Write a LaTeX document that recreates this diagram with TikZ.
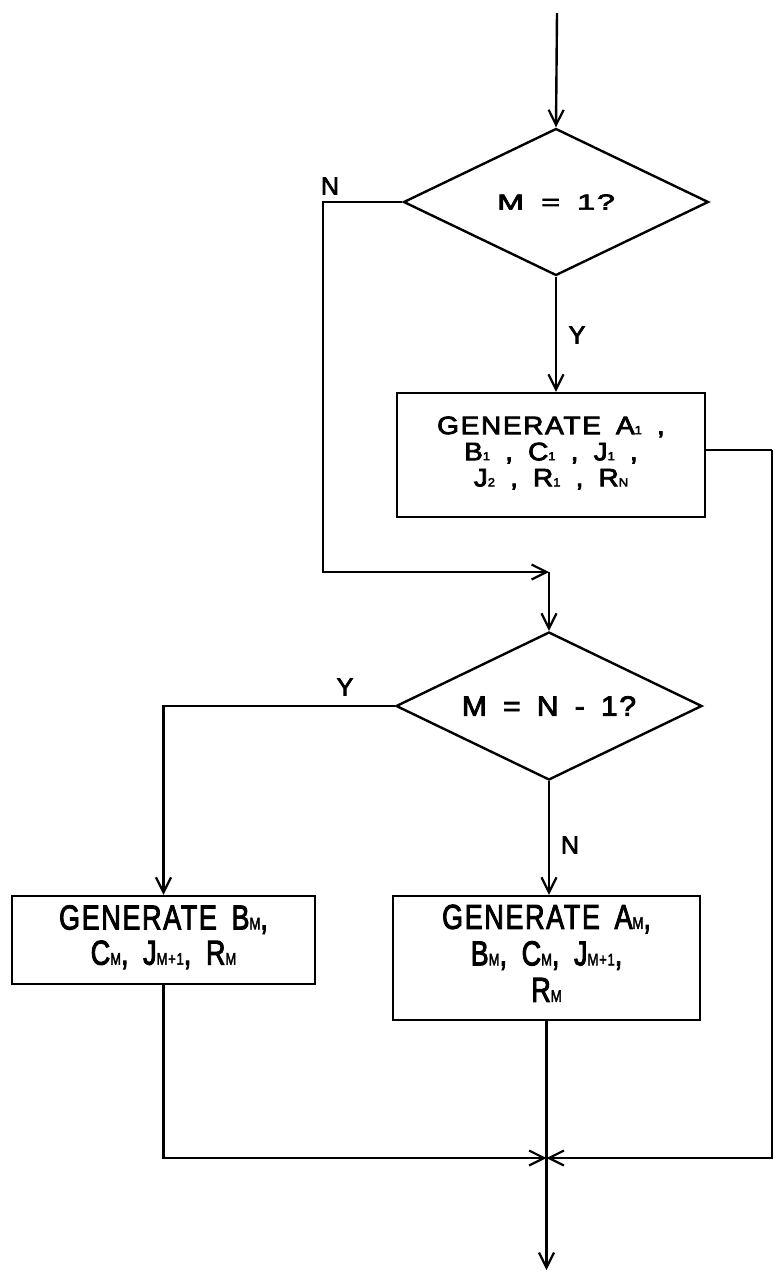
\documentclass[tikz,border=0pt]{standalone}
\usepackage{fontspec}
\setmainfont{Liberation Sans}[LetterSpace=6,WordSpace=1.6,FakeBold=3]
\usepackage{graphicx}
\usetikzlibrary{shapes.geometric,arrows.meta}
\newcommand\lsub[1]{{\fontsize{13}{13}\selectfont #1}}
\begin{document}
\begin{tikzpicture}[x=1pt,y=-1pt,
  line width=2.4pt,
  arr/.style={-{Straight Barb[length=15pt,width=15pt,line width=2.2pt]}},
  box/.style={draw, rectangle, inner sep=0pt, line width=2.4pt},
  dia/.style={draw, diamond, aspect=2.08, inner sep=0pt, line width=2.4pt},
  lab/.style={font=\fontsize{25}{25}\selectfont, inner sep=0pt}
]
\useasboundingbox (0,0) rectangle (775,1275);
% decisions
\node[dia, minimum width=305pt, minimum height=147pt, font=\fontsize{32}{32}\selectfont] (d1) at (556,202)
  {\scalebox{1}[0.68]{M = 1?}};
\node[dia, minimum width=306pt, minimum height=148pt, font=\fontsize{30}{30}\selectfont] (d2) at (549,706)
  {\scalebox{1}[0.93]{M = N - 1?}};
% process boxes
\node[box, minimum width=308pt, minimum height=124pt, font=\fontsize{28}{29}\selectfont] (b1) at (551,455)
  {\scalebox{1}[0.9]{\begin{tabular}{@{}c@{}}GENERATE A\lsub{1} ,\\ B\lsub{1} , C\lsub{1} , J\lsub{1} ,\\ J\lsub{2} , R\lsub{1} , R\lsub{N}\end{tabular}}};
\node[box, minimum width=303pt, minimum height=88pt, font=\fontsize{27}{27.5}\selectfont] (b2) at (163.5,940)
  {\scalebox{1}[1.28]{\begin{tabular}{@{}c@{}}GENERATE B\lsub{M},\\ C\lsub{M}, J\lsub{M+1}, R\lsub{M}\end{tabular}}};
\node[box, minimum width=307pt, minimum height=124pt, font=\fontsize{27}{28.5}\selectfont] (b3) at (546.5,958)
  {\scalebox{1}[1.28]{\begin{tabular}{@{}c@{}}GENERATE A\lsub{M},\\ B\lsub{M}, C\lsub{M}, J\lsub{M+1},\\ R\lsub{M}\end{tabular}}};
% auxiliary points
\coordinate (start) at (557,13);
\coordinate (c1) at (323,202);
\coordinate (j1) at (549,572);
\coordinate (r1) at (772,450);
\coordinate (j2) at (546.5,1158);
\coordinate (stop) at (546.5,1270);
% connectors
\draw[arr] (start) -- (d1.north);
\draw[arr] (d1.west) -- (c1) |- (j1);
\draw[arr] (j1) -- (d2.north);
\draw[arr] (d1.south) -- (d1.south |- b1.north);
\draw (b1.east |- r1) -- (r1);
\draw[arr] (r1) |- (j2);
\draw[arr] (d2.west) -| (b2.north);
\draw[arr] (d2.south) -- (d2.south |- b3.north);
\draw[arr] (b2.south) |- (j2);
\draw[arr] (b3.south) -- (stop);
% labels
\node[lab] (ln1) at (330,186) {N};
\node[lab] (ly1) at (577,335) {Y};
\node[lab] (ly2) at (345,687) {Y};
\node[lab] (ln2) at (570,845) {N};
\end{tikzpicture}
\end{document}
